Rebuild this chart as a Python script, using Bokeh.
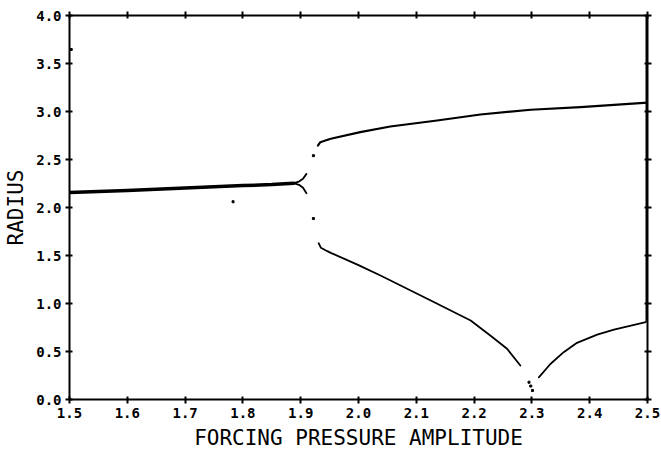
from bokeh.plotting import figure
from bokeh.models import Range1d, LinearAxis, FixedTicker, PrintfTickFormatter
from bokeh.embed import file_html
from bokeh.resources import INLINE

# ---- data ----
x_ticks = [1.5, 1.6, 1.7, 1.8, 1.9, 2.0, 2.1, 2.2, 2.3, 2.4, 2.5]
y_ticks = [0.0, 0.5, 1.0, 1.5, 2.0, 2.5, 3.0, 3.5, 4.0]

period1_x = [1.500, 1.600, 1.700, 1.800, 1.850, 1.888]
period1_y = [2.155, 2.178, 2.203, 2.228, 2.239, 2.253]

fork_up_x = [1.888, 1.897, 1.904, 1.910]
fork_up_y = [2.253, 2.270, 2.300, 2.350]
fork_lo_x = [1.888, 1.897, 1.904, 1.910]
fork_lo_y = [2.253, 2.236, 2.205, 2.149]

upper_x = [1.930, 1.934, 1.944, 1.952, 2.003, 2.055, 2.136, 2.211, 2.298, 2.384, 2.500]
upper_y = [2.646, 2.680, 2.700, 2.716, 2.785, 2.844, 2.906, 2.969, 3.018, 3.045, 3.092]

lower_x = [1.931, 1.935, 1.946, 1.952, 2.000, 2.038, 2.125, 2.194, 2.228, 2.257, 2.280]
lower_y = [1.628, 1.580, 1.545, 1.528, 1.400, 1.292, 1.031, 0.823, 0.667, 0.528, 0.354]

right_x = [2.312, 2.332, 2.355, 2.378, 2.413, 2.442, 2.497]
right_y = [0.230, 0.370, 0.493, 0.590, 0.675, 0.728, 0.805]

dots_x = [1.503, 1.783, 1.922, 1.922, 2.295, 2.298, 2.301]
dots_y = [3.646, 2.060, 2.540, 1.885, 0.180, 0.140, 0.094]

edge_x = [2.5]
edge_y0 = [0.81]
edge_y1 = [4.0]

x_title = "FORCING PRESSURE AMPLITUDE"
y_title = "RADIUS"

# ---- figure ----
p = figure(width=660, height=452, output_backend="svg", toolbar_location=None,
           x_range=Range1d(1.5, 2.5), y_range=Range1d(0.0, 4.0),
           x_axis_type=None, y_axis_type=None,
           min_border_left=69, min_border_right=13, min_border_top=15, min_border_bottom=53)
p.grid.visible = False
p.outline_line_color = "black"
p.outline_line_width = 2
p.background_fill_color = "white"
p.border_fill_color = "white"

bottom_axis = LinearAxis()
left_axis = LinearAxis()
top_axis = LinearAxis()
right_axis = LinearAxis()
p.add_layout(bottom_axis, "below")
p.add_layout(left_axis, "left")
p.add_layout(top_axis, "above")
p.add_layout(right_axis, "right")

for ax, ticks in ((bottom_axis, x_ticks), (top_axis, x_ticks), (left_axis, y_ticks), (right_axis, y_ticks)):
    ax.ticker = FixedTicker(ticks=ticks)
    ax.formatter = PrintfTickFormatter(format="%.1f")
    ax.axis_line_color = None
    ax.major_tick_line_color = "black"
    ax.major_tick_line_width = 2
    ax.major_tick_in = 3
    ax.major_tick_out = 4
    ax.minor_tick_line_color = None
    ax.major_label_text_font = "DejaVu Sans Mono"
    ax.major_label_text_font_style = "bold"
    ax.major_label_text_font_size = "14px"
    ax.major_label_text_color = "black"

for ax, ticks in ((top_axis, x_ticks), (right_axis, y_ticks)):
    ax.major_label_overrides = {t: "" for t in ticks}
    ax.major_label_standoff = 0

bottom_axis.major_label_standoff = 4
left_axis.major_label_standoff = 4

bottom_axis.axis_label = x_title
left_axis.axis_label = y_title
for ax in (bottom_axis, left_axis):
    ax.axis_label_text_font = "DejaVu Sans Mono"
    ax.axis_label_text_font_style = "normal"
    ax.axis_label_text_font_size = "21px"
    ax.axis_label_text_color = "black"
    ax.axis_label_standoff = 5

p.line(period1_x, period1_y, line_color="black", line_width=3.5, line_cap="round", line_join="round")
p.line(fork_up_x, fork_up_y, line_color="black", line_width=1.8, line_cap="round")
p.line(fork_lo_x, fork_lo_y, line_color="black", line_width=1.8, line_cap="round")
p.line(upper_x, upper_y, line_color="black", line_width=2.2, line_cap="round", line_join="round")
p.line(lower_x, lower_y, line_color="black", line_width=1.8, line_cap="round", line_join="round")
p.line(right_x, right_y, line_color="black", line_width=1.8, line_cap="round", line_join="round")
p.scatter(dots_x, dots_y, marker="square", size=2, color="black")
p.segment(x0=edge_x, y0=edge_y0, x1=edge_x, y1=edge_y1, line_color="black", line_width=4)

open("out.html", "w").write(file_html(p, INLINE))
